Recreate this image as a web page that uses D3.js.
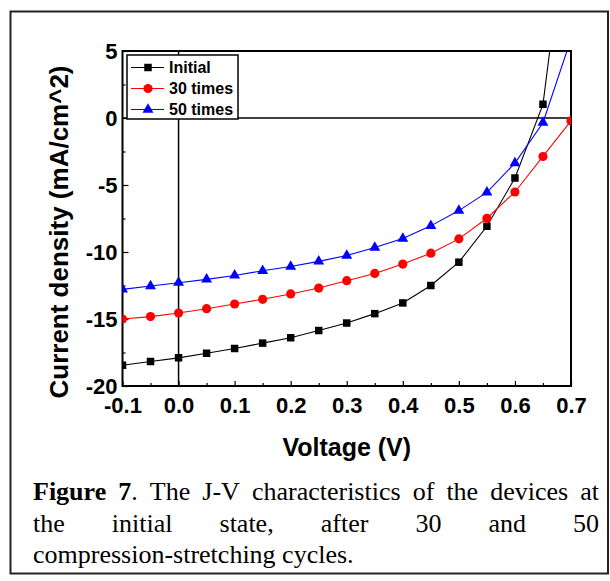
<!DOCTYPE html>
<html><head><meta charset="utf-8">
<script src="https://cdn.jsdelivr.net/npm/d3@7"></script>
<style>html,body{margin:0;padding:0;background:#fff;}svg{display:block;}</style>
</head><body>
<svg id="c" width="610" height="581"></svg>
<script>
const voltage = [-0.1,-0.05,0,0.05,0.1,0.15,0.2,0.25,0.3,0.35,0.4,0.45,0.5,0.55,0.6,0.65,0.7];
const initialJ = [-18.45,-18.17,-17.9,-17.55,-17.2,-16.8,-16.4,-15.86,-15.3,-14.6,-13.8,-12.5,-10.76,-8.08,-4.48,1.02,17.5];
const cycles30J = [-15.0,-14.82,-14.55,-14.23,-13.88,-13.53,-13.13,-12.69,-12.14,-11.6,-10.9,-10.09,-9.02,-7.48,-5.52,-2.87,-0.22];
const cycles50J = [-12.79,-12.54,-12.29,-12.04,-11.75,-11.4,-11.08,-10.7,-10.26,-9.67,-9.0,-8.05,-6.91,-5.55,-3.37,-0.35,5.9];
const seriesNames = ["Initial","30 times","50 times"];
const seriesColors = ["#000000","#ff0000","#0000ff"];
const seriesShapes = ["square","circle","triangle"];
const xTicks = [-0.1,0,0.1,0.2,0.3,0.4,0.5,0.6,0.7];
const xTickLabels = ["-0.1","0.0","0.1","0.2","0.3","0.4","0.5","0.6","0.7"];
const yTicks = [-20,-15,-10,-5,0,5];
const yTickLabels = ["-20","-15","-10","-5","0","5"];
const xTitle = "Voltage (V)";
const yTitle = "Current density (mA/cm^2)";
const captionLines = [
  [{t:"Figure 7",b:true},{t:". The J-V characteristics of the devices at",b:false}],
  [{t:"the initial state, after 30 and 50",b:false}],
  [{t:"compression-stretching cycles.",b:false}]
];

const svg = d3.select("#c");
const L=122.5, R=571, T=51, B=386;
const x = d3.scaleLinear().domain([-0.1,0.7]).range([L,R]);
const y = d3.scaleLinear().domain([-20,5]).range([B,T]);

// outer border
svg.append("rect").attr("x",10.5).attr("y",11.5).attr("width",597.5).attr("height",562)
  .attr("fill","none").attr("stroke","#222").attr("stroke-width",2);

svg.append("defs").append("clipPath").attr("id","clip")
  .append("rect").attr("x",L).attr("y",T).attr("width",R-L).attr("height",B-T);

// zero lines
svg.append("line").attr("x1",L).attr("x2",R).attr("y1",y(0)).attr("y2",y(0)).attr("stroke","#000").attr("stroke-width",1.5);
svg.append("line").attr("x1",x(0)).attr("x2",x(0)).attr("y1",T).attr("y2",B).attr("stroke","#000").attr("stroke-width",1.5);

// axes
const xAxis = d3.axisBottom(x).tickValues(xTicks).tickSize(-5).tickFormat((d,i)=>xTickLabels[i]);
const xMinor = d3.axisBottom(x).tickValues(d3.range(-0.05,0.7,0.1)).tickSize(-3).tickFormat("");
const yAxis = d3.axisLeft(y).tickValues(yTicks).tickSize(-6).tickFormat((d,i)=>yTickLabels[i]);
const yMinor = d3.axisLeft(y).tickValues([-17.5,-12.5,-7.5,-2.5,2.5]).tickSize(-3).tickFormat("");

const gx = svg.append("g").attr("transform",`translate(0,${B})`).call(xAxis);
svg.append("g").attr("transform",`translate(0,${B})`).call(xMinor).select(".domain").remove();
const gy = svg.append("g").attr("transform",`translate(${L},0)`).call(yAxis);
svg.append("g").attr("transform",`translate(${L},0)`).call(yMinor).select(".domain").remove();
[gx,gy].forEach(g=>{g.select(".domain").remove();});
svg.selectAll(".tick line").attr("stroke","#000").attr("stroke-width",1.2);
gx.selectAll(".tick text").attr("font-family","Liberation Sans, Arial, sans-serif").attr("font-weight","bold")
  .attr("font-size",22).attr("dy",0).attr("y",27).attr("fill","#000");
gy.selectAll(".tick text").attr("font-family","Liberation Sans, Arial, sans-serif").attr("font-weight","bold")
  .attr("font-size",22).attr("x",-5).attr("dy","0.36em").attr("fill","#000");

// frame
svg.append("rect").attr("x",L).attr("y",T).attr("width",R-L).attr("height",B-T)
  .attr("fill","none").attr("stroke","#000").attr("stroke-width",2);

// series
const series = [initialJ,cycles30J,cycles50J];
const plot = svg.append("g").attr("clip-path","url(#clip)");
const line = d3.line().x((d,i)=>x(voltage[i])).y(d=>y(d));
const symType = {square:d3.symbolSquare,circle:d3.symbolCircle,triangle:d3.symbolTriangle};
const symSize = {square:56,circle:66,triangle:52};
function marker(sel,shape,color){
  sel.append("path").attr("d",d3.symbol().type(symType[shape]).size(symSize[shape])()).attr("fill",color).attr("stroke","none");
}
series.forEach((s,k)=>{
  plot.append("path").datum(s).attr("d",line).attr("fill","none").attr("stroke",seriesColors[k]).attr("stroke-width",1.1);
});
series.forEach((s,k)=>{
  s.forEach((v,i)=>{
    const g = plot.append("g").attr("transform",`translate(${x(voltage[i])},${y(v)})`);
    marker(g,seriesShapes[k],seriesColors[k]);
  });
});

// legend
const lg = svg.append("g");
lg.append("rect").attr("x",127).attr("y",55).attr("width",111).attr("height",64)
  .attr("fill","#fff").attr("stroke","#000").attr("stroke-width",1.5);
seriesNames.forEach((n,k)=>{
  const yy = 67.5 + k*21;
  lg.append("line").attr("x1",131).attr("x2",164).attr("y1",yy).attr("y2",yy).attr("stroke",seriesColors[k]).attr("stroke-width",1.1);
  const g = lg.append("g").attr("transform",`translate(148,${yy})`);
  marker(g,seriesShapes[k],seriesColors[k]);
  lg.append("text").attr("x",169).attr("y",yy).attr("dy","0.36em").text(n)
    .attr("font-family","Liberation Sans, Arial, sans-serif").attr("font-weight","bold").attr("font-size",16).attr("fill","#000");
});

// axis titles
svg.append("text").attr("x",(L+R)/2).attr("y",456).attr("text-anchor","middle").text(xTitle)
  .attr("font-family","Liberation Sans, Arial, sans-serif").attr("font-weight","bold").attr("font-size",25);
svg.append("text").attr("transform","translate(68,232) rotate(-90)").attr("text-anchor","middle").text(yTitle)
  .attr("font-family","Liberation Sans, Arial, sans-serif").attr("font-weight","bold").attr("font-size",26);

// caption (justified)
const capL = 33, capR = 599, capFs = 26;
const base = [500, 532, 563];
captionLines.forEach((ln,li)=>{
  const words=[];
  ln.forEach(run=>{
    run.t.split(/(\s+)/).forEach(w=>{ if(w.length && !/^\s+$/.test(w)) words.push({t:w,b:run.b,sp:false}); else if(w.length) words.push({sp:true}); });
  });
  const tokens=[]; let cur=[];
  words.forEach(w=>{ if(w.sp){ if(cur.length) tokens.push(cur); cur=[]; } else cur.push(w); });
  if(cur.length) tokens.push(cur);
  const tg = svg.append("g");
  const els = tokens.map(tok=>{
    const te = tg.append("text").attr("y",base[li]).attr("font-family","Liberation Serif, Times New Roman, serif").attr("font-size",capFs).attr("fill","#000");
    tok.forEach(p=>te.append("tspan").attr("font-weight",p.b?"bold":"normal").text(p.t));
    return te;
  });
  const widths = els.map(e=>e.node().getComputedTextLength());
  const total = d3.sum(widths);
  const justify = li < captionLines.length-1;
  const gap = justify && els.length>1 ? (capR-capL-total)/(els.length-1) : capFs*0.25;
  let xx = capL;
  els.forEach((e,i)=>{ e.attr("x",xx); xx += widths[i]+gap; });
});
</script>
</body></html>
